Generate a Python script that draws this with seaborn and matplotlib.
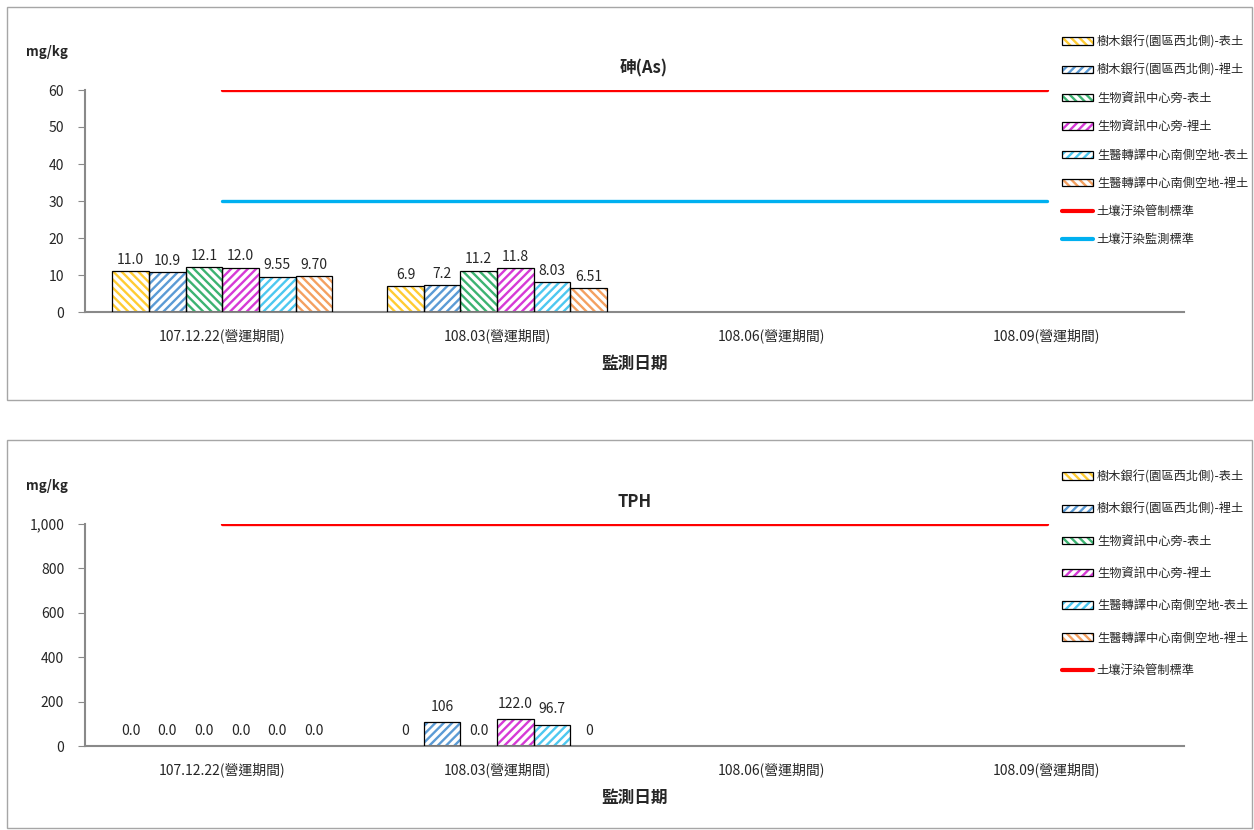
import numpy as np
import pandas as pd
import seaborn as sns
import matplotlib.pyplot as plt
from matplotlib.patches import Rectangle, Patch
from matplotlib.lines import Line2D
from matplotlib.legend_handler import HandlerTuple

sns.set_style('white')
plt.rcParams['font.family'] = ['Noto Sans CJK TC', 'DejaVu Sans']
plt.rcParams['hatch.linewidth'] = 1.7

# Data
dates = ['107.12.22(營運期間)', '108.03(營運期間)', '108.06(營運期間)', '108.09(營運期間)']
sites = ['樹木銀行(園區西北側)-表土', '樹木銀行(園區西北側)-裡土',
         '生物資訊中心旁-表土', '生物資訊中心旁-裡土',
         '生醫轉譯中心南側空地-表土', '生醫轉譯中心南側空地-裡土']
measured_dates = ['107.12.22(營運期間)', '108.03(營運期間)']

as_values = [[11.0, 10.9, 12.1, 12.0, 9.55, 9.70],
             [6.9, 7.2, 11.2, 11.8, 8.03, 6.51]]
as_labels = [['11.0', '10.9', '12.1', '12.0', '9.55', '9.70'],
             ['6.9', '7.2', '11.2', '11.8', '8.03', '6.51']]
as_control = [60, 60, 60, 60]
as_monitor = [30, 30, 30, 30]

tph_values = [[0, 0, 0, 0, 0, 0],
              [0, 106, 0, 122.0, 96.7, 0]]
tph_labels = [['0.0', '0.0', '0.0', '0.0', '0.0', '0.0'],
              ['0', '106', '0.0', '122.0', '96.7', '0']]
tph_control = [1000, 1000, 1000, 1000]

colors = ['#FFCC33', '#5B9BD5', '#3CB371', '#D63AD6', '#4DC8F0', '#F4A060']
hatches = ['\\\\\\\\', '////', '\\\\\\\\', '////', '////', '\\\\\\\\']


def to_frame(values):
    rows = []
    for d, vals in zip(measured_dates, values):
        for s, v in zip(sites, vals):
            rows.append({'date': d, 'site': s, 'value': v})
    return pd.DataFrame(rows)


def draw_panel(ax, values, labels, lines, ylim, yticks, title, yfmt, pad, title_x):
    df = to_frame(values)
    sns.barplot(data=df, x='date', y='value', hue='site', order=dates,
                hue_order=sites, palette=colors, width=0.8, ax=ax,
                legend=False, errorbar=None, saturation=1)
    for i, cont in enumerate(ax.containers):
        for bar in cont:
            bar.set_facecolor('white')
            bar.set_edgecolor(colors[i])
            bar.set_hatch(hatches[i])
            bar.set_linewidth(0)
            if bar.get_height() > 0:
                ax.add_patch(Rectangle(bar.get_xy(), bar.get_width(), bar.get_height(),
                                       fill=False, edgecolor='black', linewidth=0.9, zorder=3))
        ax.bar_label(cont, labels=[labels[j][i] for j in range(len(cont))],
                     padding=pad, fontsize=10)
    for yv, c in lines:
        sns.lineplot(x=np.arange(len(dates)), y=yv, color=c, linewidth=2.4, ax=ax)
    ax.set_xlim(-0.5, len(dates) - 0.5)
    ax.set_ylim(*ylim)
    ax.set_yticks(yticks)
    ax.set_yticklabels([yfmt(v) for v in yticks], fontsize=10)
    ax.set_xticks(range(len(dates)))
    ax.set_xticklabels(dates, fontsize=10)
    ax.set_xticks(np.arange(-0.5, len(dates)), minor=True)
    ax.tick_params(axis='x', which='major', length=0, pad=12)
    ax.tick_params(axis='x', which='minor', direction='in', length=5, color='#898989')
    ax.tick_params(axis='y', direction='out', length=5, color='#898989', left=True, pad=10)
    for side in ['top', 'right']:
        ax.spines[side].set_visible(False)
    for side in ['left', 'bottom']:
        ax.spines[side].set_color('#898989')
        ax.spines[side].set_linewidth(1.5)
    ax.set_xlabel('監測日期', fontsize=12, fontweight='bold', labelpad=8)
    ax.set_ylabel('')
    ax.set_title(title, fontsize=12, fontweight='bold', pad=12, x=title_x)


def legend_handles(line_items):
    handles = []
    for c, h in zip(colors, hatches):
        handles.append((Patch(facecolor='white', edgecolor=c, hatch=h, linewidth=0),
                        Patch(fill=False, edgecolor='black', linewidth=0.9)))
    for c in line_items:
        handles.append(Line2D([0], [0], color=c, linewidth=3))
    return handles


fig = plt.figure(figsize=(12.54, 8.30), dpi=100)

# panel frames
fig.patches.append(Rectangle((7 / 1254, 1 - 400 / 830), 1245 / 1254, 393 / 830,
                             transform=fig.transFigure, fill=False,
                             edgecolor='#a6a6a6', linewidth=1))
fig.patches.append(Rectangle((7 / 1254, 1 - 828 / 830), 1245 / 1254, 388 / 830,
                             transform=fig.transFigure, fill=False,
                             edgecolor='#a6a6a6', linewidth=1))

ax1 = fig.add_axes([85 / 1254, 1 - 312 / 830, 1099 / 1254, 222 / 830])
draw_panel(ax1, as_values, as_labels,
           [(as_control, '#FF0000'), (as_monitor, '#00B0F0')],
           (0, 60), [0, 10, 20, 30, 40, 50, 60], '砷(As)',
           lambda v: f'{v:d}', 3, 0.508)
fig.text(47 / 1254, 1 - 52 / 830, 'mg/kg', fontsize=9.5, fontweight='bold',
         ha='center', va='center')

ax2 = fig.add_axes([85 / 1254, 1 - 746 / 830, 1099 / 1254, 222 / 830])
draw_panel(ax2, tph_values, tph_labels,
           [(tph_control, '#FF0000')],
           (0, 1000), [0, 200, 400, 600, 800, 1000], 'TPH',
           lambda v: f'{v:,d}', 6, 0.5)
fig.text(47 / 1254, 1 - 486 / 830, 'mg/kg', fontsize=9.5, fontweight='bold',
         ha='center', va='center')

leg_kw = dict(loc='upper left', frameon=False, fontsize=8.8, handlelength=2.55,
              handleheight=0.55, handletextpad=0.3,
              handler_map={tuple: HandlerTuple(ndivide=1, pad=0)})

leg_labels1 = sites + ['土壤汙染管制標準', '土壤汙染監測標準']
fig.legend(legend_handles(['#FF0000', '#00B0F0']), leg_labels1,
           bbox_to_anchor=(1051 / 1254, 1 - 24 / 830), labelspacing=1.25, **leg_kw)

leg_labels2 = sites + ['土壤汙染管制標準']
fig.legend(legend_handles(['#FF0000']), leg_labels2,
           bbox_to_anchor=(1051 / 1254, 1 - 459 / 830), labelspacing=1.57, **leg_kw)

fig.savefig('out.png', dpi=100)
